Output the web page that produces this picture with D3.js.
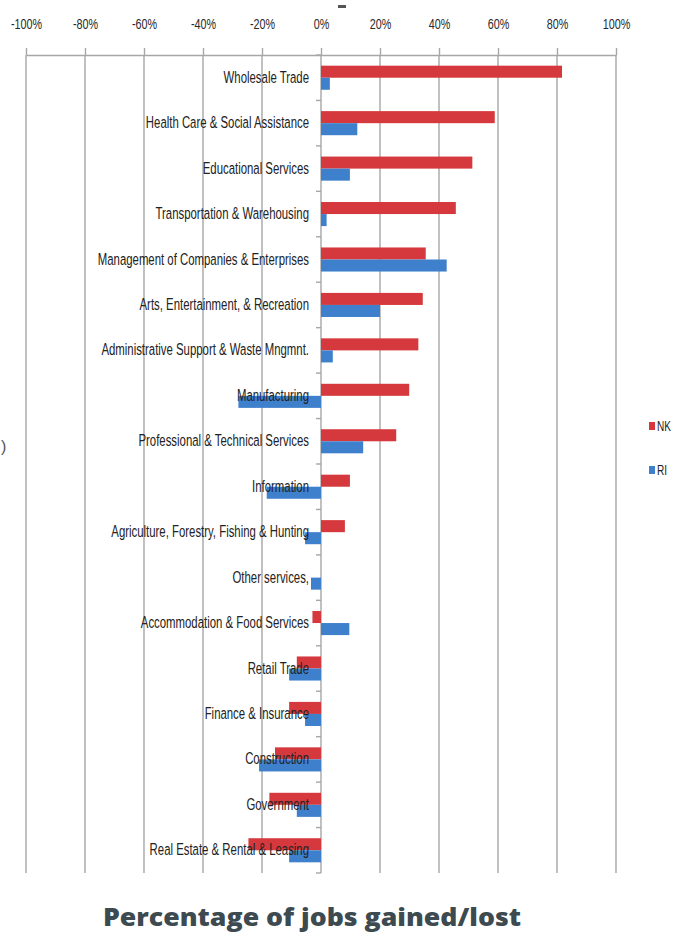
<!DOCTYPE html>
<html>
<head>
<meta charset="utf-8">
<script src="https://cdn.jsdelivr.net/npm/d3@7"></script>
<style>
  html, body { margin: 0; padding: 0; background: #ffffff; }
  svg { display: block; }
</style>
</head>
<body>
<svg id="chart" width="673" height="934"></svg>
<script>
// Industries, top to bottom
const industries = [
  "Wholesale Trade",
  "Health Care & Social Assistance",
  "Educational Services",
  "Transportation & Warehousing",
  "Management of Companies & Enterprises",
  "Arts, Entertainment, & Recreation",
  "Administrative Support & Waste Mngmnt.",
  "Manufacturing",
  "Professional & Technical Services",
  "Information",
  "Agriculture, Forestry, Fishing & Hunting",
  "Other services,",
  "Accommodation & Food Services",
  "Retail Trade",
  "Finance & Insurance",
  "Construction",
  "Government",
  "Real Estate & Rental & Leasing"
];

// Percentage change in jobs
const nkValues = [81.7, 58.9, 51.3, 45.7, 35.5, 34.5, 33, 29.9, 25.5, 9.8, 8.1, 0, -2.9, -8.2, -10.8, -15.6, -17.5, -24.6];
const riValues = [3, 12.3, 9.8, 1.9, 42.6, 20, 4, -28, 14.3, -18.4, -5.4, -3.4, 9.6, -10.8, -5.4, -21, -8.2, -10.8];

const seriesNames = ["NK", "RI"];
const tickValues = [-100, -80, -60, -40, -20, 0, 20, 40, 60, 80, 100];
const chartTitle = "Percentage of jobs gained/lost";

const rows = industries.map((name, i) => ({ name, NK: nkValues[i], RI: riValues[i] }));

const colors = { NK: "#d5393d", RI: "#3e80cc" };
const gridColor = "#a6a6a6";
const labelFont = "'Liberation Sans Narrow', 'Liberation Sans', Arial, sans-serif";

const svg = d3.select("#chart");

const plotTop = 55, plotBottom = 873;

const x = d3.scaleLinear().domain([-100, 100]).range([26, 616]);

const y = d3.scaleBand()
  .domain(industries)
  .range([plotTop, plotBottom])
  .paddingInner(0.47)
  .paddingOuter(0.235);

const ySub = d3.scaleBand()
  .domain(seriesNames)
  .range([0, y.bandwidth()]);

// Vertical gridlines
svg.append("g")
  .selectAll("line")
  .data(tickValues)
  .join("line")
  .attr("x1", d => x(d)).attr("x2", d => x(d))
  .attr("y1", plotTop).attr("y2", plotBottom)
  .attr("stroke", gridColor)
  .attr("stroke-width", 1.4);

// Top value axis
const axis = d3.axisTop(x)
  .tickValues(tickValues)
  .tickSizeInner(7)
  .tickSizeOuter(0)
  .tickPadding(19)
  .tickFormat(d => d + "%");

const axisG = svg.append("g")
  .attr("transform", `translate(0,${plotTop})`)
  .call(axis);
axisG.select(".domain").attr("stroke", gridColor).attr("stroke-width", 1.6);
axisG.selectAll(".tick line").attr("stroke", gridColor).attr("stroke-width", 1.4);
axisG.selectAll(".tick text")
  .attr("fill", "#2a2a2a")
  .style("font-family", labelFont)
  .style("font-size", "15px")
  .attr("transform", "scale(0.72,1)");

// Category tick marks on the zero line
const gap = (y.step() - y.bandwidth()) / 2;
const boundaries = industries.map(d => y(d) - gap)
  .concat([y(industries[industries.length - 1]) + y.bandwidth() + gap]);
svg.append("g")
  .selectAll("line")
  .data(boundaries)
  .join("line")
  .attr("x1", x(0) - 5).attr("x2", x(0))
  .attr("y1", d => d).attr("y2", d => d)
  .attr("stroke", gridColor)
  .attr("stroke-width", 1.4);

// Bars
const groups = svg.append("g")
  .selectAll("g")
  .data(rows)
  .join("g")
  .attr("transform", d => `translate(0,${y(d.name)})`);

groups.selectAll("rect")
  .data(d => seriesNames.map(s => ({ s, v: d[s] })))
  .join("rect")
  .attr("x", d => x(Math.min(0, d.v)))
  .attr("width", d => Math.abs(x(d.v) - x(0)))
  .attr("y", d => ySub(d.s))
  .attr("height", ySub.bandwidth())
  .attr("fill", d => colors[d.s]);

// Category labels, drawn over the bars
svg.append("g")
  .selectAll("g")
  .data(industries)
  .join("g")
  .attr("transform", d => `translate(309,${y(d) + y.bandwidth() / 2 + 5}) scale(0.67,1)`)
  .append("text")
  .attr("text-anchor", "end")
  .attr("fill", "#222")
  .style("font-family", labelFont)
  .style("font-size", "17px")
  .text(d => d);

// Legend
const legend = svg.append("g")
  .selectAll("g")
  .data(seriesNames)
  .join("g")
  .attr("transform", (d, i) => `translate(649,${426 + i * 44})`);
legend.append("rect")
  .attr("x", 0).attr("y", -4)
  .attr("width", 6).attr("height", 8)
  .attr("fill", d => colors[d]);
legend.append("g")
  .attr("transform", "translate(8,5) scale(0.72,1)")
  .append("text")
  .attr("fill", "#222")
  .style("font-family", labelFont)
  .style("font-size", "14px")
  .text(d => d);

// Fragments at the edges of the frame
svg.append("text")
  .attr("x", 1).attr("y", 452)
  .attr("fill", "#555")
  .style("font-family", labelFont)
  .style("font-size", "16px")
  .text(")");
svg.append("rect")
  .attr("x", 338).attr("y", 5)
  .attr("width", 8).attr("height", 3)
  .attr("fill", "#555");

// Title
svg.append("text")
  .attr("x", 312).attr("y", 926)
  .attr("text-anchor", "middle")
  .attr("fill", "#3d4a4f")
  .style("font-family", "'Open Sans', Lato, sans-serif")
  .style("font-weight", "800")
  .style("font-size", "24px")
  .attr("textLength", 418)
  .attr("lengthAdjust", "spacingAndGlyphs")
  .text(chartTitle);
</script>
</body>
</html>
